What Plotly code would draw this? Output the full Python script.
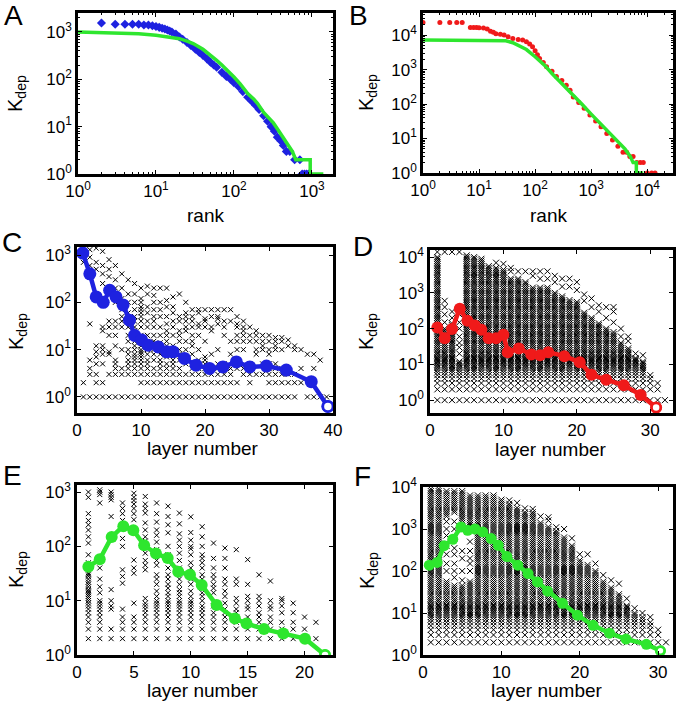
import plotly.graph_objects as go
from plotly.subplots import make_subplots

# ---------------- A: rank plot, small network ----------------
a_blue_rank = [2, 3, 4, 5, 6, 7, 8, 9, 10, 11, 12, 13, 14, 15, 16, 18, 20, 22, 25, 28, 32, 36, 40, 45,
               50, 55, 60, 70, 80, 90, 100, 115, 130, 150, 170, 190, 210, 240, 270, 300, 330, 360,
               400, 430, 470, 520, 600, 700, 750, 800, 850, 900]
a_blue_k = [1550, 1450, 1450, 1450, 1450, 1400, 1400, 1350, 1300, 1250, 1200, 1150, 1100, 1050, 1000,
            900, 780, 700, 600, 520, 430, 370, 320, 270, 230, 200, 180, 140, 115, 100, 85, 70, 55, 42,
            34, 28, 23, 17, 13, 10, 8, 6, 5, 4, 3, 3, 2, 2, 1, 1, 1, 1]
a_green_rank = [1, 3, 6, 10, 14, 20, 25, 30, 40, 50, 60, 70, 85, 100, 120, 150, 180, 200, 240, 280,
                320, 360, 400, 450, 500, 560, 620, 950, 950, 1400]
a_green_k = [1000, 960, 920, 850, 790, 720, 640, 570, 430, 325, 250, 200, 150, 112, 80, 50, 38, 31,
             20, 15, 12, 9, 7, 5, 4, 3, 2, 2, 1, 1]

# ---------------- B: rank plot, large network ----------------
b_red_rank = [1, 2, 3, 4, 5, 7, 8, 9, 10, 12, 14, 16, 18, 20, 24, 28, 33, 40, 50, 60, 70, 80, 90, 100,
              110, 120, 140, 160, 200, 240, 300, 360, 420, 480, 600, 750, 950, 1200, 1500, 1900, 2400,
              3000, 3700, 4300, 4900, 5600, 6500, 7500, 8500, 10000, 12000, 13800]
b_red_k = [23000, 23000, 23000, 23000, 23000, 16600, 16600, 16500, 16400, 16000, 15000, 13000, 12000,
           11000, 10500, 10000, 9000, 8000, 7500, 7200, 6400, 5500, 4600, 3500, 2700, 2100, 1600, 1200,
           900, 630, 480, 350, 250, 160, 110, 75, 48, 32, 22, 14, 9, 6, 4, 4, 3, 3, 2, 2, 2, 1, 1, 1]
b_green_rank = [1, 5, 10, 20, 30, 40, 50, 70, 100, 150, 200, 300, 500, 700, 1000, 1500, 2000, 3000,
                4000, 5000, 5600, 6400, 6400, 8500]
b_green_k = [7200, 7150, 7100, 7000, 6800, 6000, 5100, 3800, 2350, 1300, 770, 400, 165, 95, 51, 26,
             16, 8, 5, 3, 2, 2, 1, 1]

# ---------------- C: per-layer Kdep (small network) ----------------
c_cols = [  # index = layer - 1
    [1, 2, 700, 1100, 1500],
    [1, 3, 4, 6, 35, 600, 900, 1300],
    [1, 2, 3, 5, 7, 9, 12, 500, 700, 1400],
    [1, 2, 5, 8, 10, 12, 25, 30, 250, 400, 600, 1200],
    [1, 3, 8, 9, 20, 30, 40, 150, 350, 500, 800],
    [1, 3, 4, 5, 6, 12, 20, 30, 40, 100, 200, 300, 600],
    [1, 3, 4, 10, 30, 40, 50, 70, 120, 200, 400],
    [1, 3, 4, 5, 6, 8, 10, 15, 20, 30, 40, 60, 100, 150, 300],
    [1, 3, 4, 5, 6, 7, 8, 10, 12, 15, 20, 25, 30, 40, 50, 70, 100, 150, 250],
    [1, 2, 3, 4, 5, 6, 7, 8, 9, 10, 12, 14, 20, 30, 40, 50, 60, 70, 80, 100, 120, 200],
    [1, 2, 3, 4, 5, 6, 8, 10, 12, 15, 20, 30, 40, 60, 80, 150, 220],
    [1, 2, 3, 4, 6, 8, 10, 15, 20, 30, 40, 50, 70, 100, 140, 200],
    [1, 2, 3, 4, 5, 6, 8, 10, 14, 20, 30, 50, 70, 100, 200],
    [1, 2, 3, 4, 5, 7, 9, 12, 15, 20, 25, 35, 50, 80, 110, 200],
    [1, 2, 3, 4, 5, 6, 8, 12, 20, 30, 40, 60, 80, 130],
    [1, 2, 3, 4, 6, 8, 10, 15, 20, 25, 40, 50, 150],
    [1, 2, 3, 5, 7, 10, 15, 25, 30, 40, 50, 60, 100],
    [1, 2, 3, 4, 5, 8, 12, 15, 20, 30, 40, 50, 70],
    [1, 2, 3, 4, 5, 6, 10, 20, 30, 35, 60, 70],
    [1, 2, 3, 4, 5, 6, 7, 15, 30, 40, 45, 70],
    [1, 2, 3, 4, 8, 25, 30, 50, 70],
    [1, 2, 3, 4, 5, 10, 35, 45, 50, 70],
    [1, 2, 3, 5, 20, 30, 40, 70],
    [1, 2, 3, 4, 8, 15, 40, 70],
    [1, 2, 4, 10, 15, 20, 30, 35, 50],
    [1, 3, 4, 10, 15, 20, 25, 30, 40],
    [1, 2, 3, 4, 5, 15, 20, 30],
    [1, 3, 8, 10, 15, 20, 25],
    [1, 3, 5, 10, 12, 15, 20],
    [1, 2, 3, 4, 5, 8, 10, 15, 20],
    [1, 2, 3, 4, 5, 10, 12, 15, 18],
    [1, 2, 3, 4, 10, 15, 18],
    [1, 2, 3, 12, 16],
    [1, 2, 3, 10, 12],
    [2, 4, 10],
    [1, 8],
    [1, 4, 8],
    [1, 6],
    [1],
]
c_line_layer = [0.9, 2, 3, 4.1, 5.1, 6.1, 7.2, 8.2, 9, 10.1, 11.1, 12.7, 14, 15, 16.8, 18.6, 20.7,
                22.8, 24.9, 27, 29.6, 32.7, 36.6, 39.2]
c_line_k = [1100, 400, 130, 100, 180, 130, 88, 42, 20, 16, 12.4, 11.4, 9, 9, 6.5, 4.7, 4, 4.3, 5.5,
            4.3, 4.5, 3.7, 2.1, 0.63]

# ---------------- D: per-layer Kdep (large network) ----------------
k_levels = [1, 2, 3, 4, 5, 6, 7, 8, 9, 10, 11, 12, 13, 14, 15, 16, 18, 20, 22, 25, 28, 32, 36, 40, 45,
            50, 56, 63, 70, 80, 90, 100, 112, 125, 140, 160, 180, 200, 225, 250, 280, 320, 360, 400,
            450, 500, 560, 630, 710, 800, 900, 1000, 1120, 1250, 1400, 1600, 1800, 2000, 2250, 2500,
            2800, 3200, 3600, 4000, 4500, 5000, 5600, 6300, 7100, 8000, 9000, 10000, 11200, 12500]
# solid K-bands (low, high) per layer, then loose extra points
d_bands = [[(1, 10000)], [(1, 100)], [(1, 150)], [(1, 12)], [(1, 11500)], [(1, 10000)], [(1, 9000)],
           [(1, 6000)], [(1, 5000)], [(1, 4500)], [(1, 2500)], [(1, 2500)], [(1, 2000)], [(1, 1500)],
           [(1, 1500)], [(1, 1500)], [(1, 1000)], [(1, 800)], [(1, 700)], [(1, 600)], [(1, 300)],
           [(1, 200)], [(1, 150)], [(1, 100)], [(1, 80)], [(1, 40)], [(1, 30)], [(1, 15)], [(1, 12)],
           [(1, 4)], [(1, 2)], [(1, 1)]]
d_sparse = [[14000], [150, 250, 400, 600, 14000], [200, 300, 14000],
            [20, 30, 40, 60, 100, 150, 250, 14000], [], [], [], [], [7000], [6500], [4000, 5000],
            [4000], [4000], [3000, 4000], [2500, 4000], [2500, 4000], [2000, 3000], [1500, 2500],
            [1500, 2500], [1200, 2000], [600, 900], [400, 700], [300, 450], [200, 400],
            [150, 300, 400], [60, 100], [45, 60], [20], [18], [5], [3], []]
d_line_layer = [1, 2, 3, 4.05, 5.1, 6.1, 7, 8, 9, 10, 10.6, 12.1, 13.8, 15, 16.1, 18.3, 20.4, 22, 24,
                26.4, 28.7, 30.8]
d_line_k = [108, 54, 97, 360, 166, 123, 93, 54, 54, 67, 22, 28, 19, 18, 22, 17, 11.5, 5.1, 3.7, 2.6,
            1.4, 0.62]

# ---------------- E: per-layer Kdep, model (small) ----------------
e_cols = [
    [2, 3, 4, 5, 6, 7, 8, 9, 10, 11, 12, 13, 14, 15, 16, 18, 20, 22, 25, 28, 30, 32, 50, 70, 115, 150,
     200, 250, 300, 400, 800, 1000],
    [2, 3, 4, 5, 6, 7, 8, 9, 10, 14, 18, 25, 40, 630, 900, 1000, 1100],
    [2, 3, 7, 8, 10, 16, 355, 720, 800, 900, 1000],
    [2, 3, 4, 5, 7, 21, 28, 37, 100, 140, 235, 300, 400, 500, 630],
    [2, 3, 4, 5, 9, 32, 40, 56, 200, 310, 400, 500, 600, 700, 800, 950],
    [2, 3, 4, 5, 6, 7, 8, 9, 11, 37, 45, 55, 75, 125, 150, 200, 270, 410, 500, 600, 830],
    [2, 3, 4, 5, 6, 7, 8, 9, 10, 12, 15, 20, 25, 30, 45, 55, 87, 120, 160, 200, 280, 400, 630],
    [2, 3, 4, 5, 6, 7, 8, 9, 10, 12, 14, 17, 20, 25, 30, 40, 55, 70, 100, 178, 250, 355, 550],
    [2, 3, 4, 5, 6, 7, 8, 9, 10, 12, 14, 16, 20, 25, 32, 40, 55, 75, 100, 130, 170, 260, 410],
    [2, 3, 4, 5, 6, 7, 8, 9, 10, 12, 15, 20, 25, 30, 40, 50, 70, 90, 100, 130, 180, 350],
    [2, 3, 4, 5, 6, 7, 8, 10, 12, 14, 17, 20, 25, 30, 40, 50, 60, 70, 100, 150, 230],
    [2, 3, 4, 5, 6, 8, 14, 17, 20, 25, 30, 40, 60, 115],
    [2, 3, 4, 5, 6, 7, 9, 12, 15, 20, 25, 40, 60, 93],
    [2, 3, 4, 5, 6, 7, 9, 11, 20, 25, 87],
    [2, 3, 4, 5, 7, 8, 10, 12, 20, 57],
    [2, 3, 4, 5, 6, 8, 10, 12, 30],
    [2, 3, 4, 5, 7, 8, 10, 23],
    [2, 3, 4, 6, 8, 10, 11],
    [2, 3, 4, 6, 9],
    [2, 3, 5],
    [2, 4],
]
e_line_layer = [1, 2, 3.05, 4.07, 4.95, 5.9, 6.94, 7.97, 8.9, 9.93, 10.96, 12.27, 13.88, 14.9, 16.43,
                18.13, 20.04, 21.8]
e_line_k = [42, 58, 149, 235, 198, 105, 74, 61, 34, 30, 19.4, 8.3, 4.7, 3.8, 3.0, 2.5, 2.0, 1.0]

# ---------------- F: per-layer Kdep, model (large) ----------------
f_bands = [[(2, 9000)], [(2, 9000)], [(2, 60), (2000, 8500)], [(2, 45), (2500, 8000)],
           [(2, 45), (1300, 8000)], [(2, 60), (1000, 7000)], [(2, 7000)], [(2, 7000)], [(2, 6500)],
           [(2, 5000)], [(2, 4000)], [(2, 3500)], [(2, 2500)], [(2, 2500)], [(2, 1500)], [(2, 1200)],
           [(2, 900)], [(2, 700)], [(2, 400)], [(2, 180)], [(2, 150)], [(2, 100)], [(2, 60)],
           [(2, 40)], [(2, 30)], [(2, 15)], [(2, 10)], [(2, 8)], [(2, 6)], [(2, 3)], [(2, 2)]]
f_sparse = [[], [],
            [100, 150, 250, 400, 700, 1000, 1500],
            [70, 100, 150, 250, 350, 600, 1000, 1500],
            [60, 100, 200, 300],
            [100, 150, 200, 300, 500],
            [], [], [], [], [4800], [4200], [3100], [3000], [2000], [1600, 1900], [1100], [1000],
            [600], [250], [250], [150], [80], [60], [50], [22], [13], [10], [8], [4], []]
f_line_layer = [0.8, 1.8, 2.7, 3.8, 4.85, 5.7, 6.64, 7.62, 8.7, 9.6, 10.7, 12.1, 13.4, 14.6, 15.9,
                17.8, 19.7, 21.7, 23.8, 25.9, 28.5, 30.3]
f_line_k = [138, 160, 400, 570, 1120, 930, 1000, 850, 590, 410, 220, 138, 87, 55, 33, 17, 8.9, 5.1,
            3.3, 2.4, 1.8, 1.26]

BLUE = "#1e22e0"
RED = "#f01a1a"
GREEN = "#2ee62e"
FONT = "Liberation Sans, Arial, Helvetica, sans-serif"


def band_columns(bands, extras, levels):
    xs, ys = [], []
    for layer, (blist, extra) in enumerate(zip(bands, extras), start=1):
        vals = [k for k in levels if any(lo <= k <= hi for lo, hi in blist)] + list(extra)
        xs += [layer] * len(vals)
        ys += vals
    return xs, ys


def list_columns(cols):
    xs, ys = [], []
    for layer, vals in enumerate(cols, start=1):
        xs += [layer] * len(vals)
        ys += vals
    return xs, ys


def cloud(xs, ys, size=5):
    return go.Scatter(x=xs, y=ys, mode="markers", showlegend=False, hoverinfo="skip",
                      marker=dict(symbol="x-thin", size=size, line=dict(width=1, color="black")))


def mean_line(xs, ys, color, size):
    return [
        go.Scatter(x=xs, y=ys, mode="lines+markers", showlegend=False,
                   line=dict(color=color, width=4.5),
                   marker=dict(size=size, color=color)),
        go.Scatter(x=xs[-1:], y=ys[-1:], mode="markers", showlegend=False,
                   marker=dict(size=size - 3, color="white", line=dict(width=2.5, color=color))),
    ]


fig = make_subplots(rows=3, cols=2)

# A
fig.add_trace(go.Scatter(x=a_blue_rank, y=a_blue_k, mode="markers", showlegend=False,
                         marker=dict(symbol="diamond", size=7, color=BLUE)), row=1, col=1)
fig.add_trace(go.Scatter(x=a_green_rank, y=a_green_k, mode="lines", showlegend=False,
                         line=dict(color=GREEN, width=3.5)), row=1, col=1)
# B
fig.add_trace(go.Scatter(x=b_red_rank, y=b_red_k, mode="markers", showlegend=False,
                         marker=dict(symbol="circle", size=5, color=RED)), row=1, col=2)
fig.add_trace(go.Scatter(x=b_green_rank, y=b_green_k, mode="lines", showlegend=False,
                         line=dict(color=GREEN, width=3.5)), row=1, col=2)
# C
fig.add_trace(cloud(*list_columns(c_cols)), row=2, col=1)
for t in mean_line(c_line_layer, c_line_k, BLUE, 13):
    fig.add_trace(t, row=2, col=1)
# D
fig.add_trace(cloud(*band_columns(d_bands, d_sparse, k_levels), size=6), row=2, col=2)
for t in mean_line(d_line_layer, d_line_k, RED, 12):
    fig.add_trace(t, row=2, col=2)
# E
fig.add_trace(cloud(*list_columns(e_cols)), row=3, col=1)
for t in mean_line(e_line_layer, e_line_k, GREEN, 12):
    fig.add_trace(t, row=3, col=1)
# F
fig.add_trace(cloud(*band_columns(f_bands, f_sparse, k_levels), size=6), row=3, col=2)
for t in mean_line(f_line_layer, f_line_k, GREEN, 11):
    fig.add_trace(t, row=3, col=2)

W, H = 679, 705


def dom_x(a, b):
    return [a / W, b / W]


def dom_y(top, bottom):
    return [1 - bottom / H, 1 - top / H]


axis_style = dict(showline=True, linewidth=2.5, linecolor="black", mirror="ticks",
                  ticks="inside", ticklen=4, tickwidth=1, tickcolor="black", automargin=False,
                  showgrid=False, zeroline=False, tickfont=dict(size=17, color="black", family=FONT))


def pow_ticks(n):
    return dict(tickmode="array", tickvals=[10 ** i for i in range(n + 1)],
                ticktext=["10<sup>%d</sup>" % i for i in range(n + 1)])


def log_minor(n):
    vals = [m * 10 ** i for i in range(n + 1) for m in range(2, 10)]
    return dict(minor=dict(tickmode="array", tickvals=vals, ticks="inside", ticklen=2,
                           tickwidth=1, tickcolor="black", showgrid=False))


panels = [
    # row, col, xdomain, ydomain, x settings, y settings
    (1, 1, dom_x(78, 333), dom_y(13, 174),
     dict(type="log", range=[0, 3.27], **pow_ticks(3), **log_minor(3)),
     dict(type="log", range=[0, 3.4], **pow_ticks(3), **log_minor(3))),
    (1, 2, dom_x(423, 673), dom_y(13, 173),
     dict(type="log", range=[0, 4.46], **pow_ticks(4), **log_minor(4)),
     dict(type="log", range=[0, 4.64], **pow_ticks(4), **log_minor(4))),
    (2, 1, dom_x(77, 333), dom_y(247, 413),
     dict(range=[0, 40], dtick=10),
     dict(type="log", range=[-0.34, 3.17], **pow_ticks(3))),
    (2, 2, dom_x(430, 673), dom_y(250, 413),
     dict(range=[0, 33.1], dtick=10),
     dict(type="log", range=[-0.36, 4.2], **pow_ticks(4))),
    (3, 1, dom_x(77, 333), dom_y(485, 655),
     dict(range=[0, 22.5], dtick=5),
     dict(type="log", range=[0, 3.13], **pow_ticks(3))),
    (3, 2, dom_x(423, 673), dom_y(487, 655),
     dict(range=[0, 31.9], dtick=10),
     dict(type="log", range=[0, 4], **pow_ticks(4))),
]
for r, c, xd, yd, xs, ys in panels:
    fig.update_xaxes(domain=xd, **axis_style, **xs, row=r, col=c)
    fig.update_yaxes(domain=yd, **axis_style, **ys, row=r, col=c)

annotations = []


def note(txt, x, y, size, angle=0):
    annotations.append(dict(text=txt, x=x / W, y=1 - y / H, xref="paper", yref="paper",
                            xanchor="center", yanchor="middle", textangle=angle, showarrow=False,
                            font=dict(size=size, color="black", family=FONT)))


for txt, x, y in [("A", 13, 15), ("B", 358, 15), ("C", 12, 242), ("D", 363, 246), ("E", 12, 475),
                  ("F", 362, 476)]:
    note(txt, x, y, 28)
for txt, x, y in [("rank", 205, 215), ("rank", 548, 215), ("layer number", 203, 448),
                  ("layer number", 551, 449), ("layer number", 203, 690),
                  ("layer number", 547, 690)]:
    note(txt, x, y, 19)
for x, y in [(17, 94), (368, 93), (17, 332), (367, 332), (17, 570), (368, 571)]:
    note("K<sub>dep</sub>", x, y, 20, angle=-90)

fig.update_layout(
    template="none",
    width=W, height=H,
    margin=dict(l=0, r=0, t=0, b=0),
    paper_bgcolor="white", plot_bgcolor="white",
    font=dict(family=FONT, color="black"),
    annotations=annotations,
    showlegend=False,
)

# drop the browser's default 8px body margin so the figure sits at the page corner
fig.write_html("out.html", config={"displayModeBar": False},
               post_script="document.body.style.margin='0px';")
